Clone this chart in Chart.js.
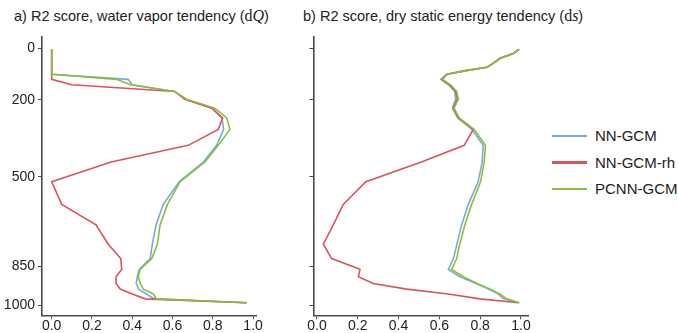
<!DOCTYPE html>
<html>
<head>
<meta charset="utf-8">
<script src="https://cdn.jsdelivr.net/npm/chart.js@4.4.1/dist/chart.umd.min.js"></script>
<style>
  html, body { margin: 0; padding: 0; background: #fff; }
  body { width: 678px; height: 333px; position: relative; overflow: hidden;
         font-family: "Liberation Sans", Arial, sans-serif; color: #222; }
  canvas { position: absolute; top: 0; }
  #chartA { left: 0; }
  #chartB { left: 280px; }
  .title { position: absolute; top: 8px; font-size: 14.5px; line-height: 16px; white-space: nowrap; }
  .m { font-family: "Liberation Serif", "DejaVu Serif", serif; font-size: 16px; }
  .i { font-style: italic; }
  .legLine { position: absolute; left: 552px; width: 35px; height: 2.5px; }
  .legText { position: absolute; left: 595px; font-size: 15px; line-height: 16px; white-space: nowrap; }
</style>
</head>
<body>
<div class="title" style="left:14px">a) R2 score, water vapor tendency (<span class="m">d</span><span class="m i">Q</span>)</div>
<div class="title" style="left:303px">b) R2 score, dry static energy tendency (<span class="m">d</span><span class="m i">s</span>)</div>
<canvas id="chartA" width="270" height="333"></canvas>
<canvas id="chartB" width="265" height="333"></canvas>
<div id="legend"></div>
<script>
// model levels (hPa)
const levels = [4, 20, 39, 57, 74, 87, 101, 121, 142, 168, 198, 233, 271, 316, 378, 443,
                520, 608, 688, 763, 819, 861, 890, 916, 938, 957, 976, 991];

// R2 of dQ
const dqNN = [0, 0, 0, 0, 0, 0, 0, 0.38, 0.40, 0.61, 0.66, 0.795, 0.845, 0.854, 0.819, 0.753,
              0.633, 0.554, 0.518, 0.50, 0.489, 0.435, 0.425, 0.42, 0.432, 0.47, 0.51, 0.968];
const dqRh = [0, 0, 0, 0, 0, 0, 0, 0, 0.10, 0.612, 0.66, 0.795, 0.849, 0.827, 0.678, 0.295,
              0.0, 0.05, 0.22, 0.281, 0.343, 0.348, 0.32, 0.32, 0.34, 0.40, 0.464, 0.968];
const dqPc = [0, 0, 0, 0, 0, 0, 0, 0.323, 0.39, 0.61, 0.67, 0.81, 0.869, 0.885, 0.827, 0.761,
              0.637, 0.575, 0.538, 0.525, 0.497, 0.439, 0.43, 0.44, 0.455, 0.505, 0.52, 0.968];

// R2 of ds
const dsNN = [0.99, 0.962, 0.897, 0.865, 0.832, 0.725, 0.636, 0.607, 0.645, 0.675, 0.68, 0.664,
              0.69, 0.76, 0.815, 0.81, 0.79, 0.742, 0.709, 0.686, 0.669, 0.644, 0.701, 0.78,
              0.84, 0.889, 0.914, 0.99];
const dsRh = [0.99, 0.962, 0.897, 0.868, 0.832, 0.73, 0.638, 0.612, 0.65, 0.68, 0.688, 0.668,
              0.694, 0.766, 0.722, 0.512, 0.24, 0.129, 0.08, 0.031, 0.072, 0.211, 0.203, 0.276,
              0.44, 0.643, 0.80, 0.987];
const dsPc = [0.993, 0.965, 0.9, 0.87, 0.835, 0.735, 0.64, 0.615, 0.655, 0.685, 0.693, 0.672,
              0.697, 0.77, 0.826, 0.82, 0.802, 0.758, 0.725, 0.70, 0.685, 0.66, 0.717, 0.785,
              0.85, 0.897, 0.93, 0.993];

const seriesNames = ['NN-GCM', 'NN-GCM-rh', 'PCNN-GCM'];
const seriesColors = ['#7eaad6', '#d9545f', '#8cbd3f'];
const pressureTicks = [0, 200, 500, 850, 1000];
const scoreTicks = [0, 0.2, 0.4, 0.6, 0.8, 1.0];

Chart.defaults.font.family = '"Liberation Sans", Arial, sans-serif';
Chart.defaults.font.size = 14;
Chart.defaults.color = '#222';

const axisColor = '#4a4a4a';

function makeDatasets(values) {
  // green on top, then red, then blue
  const order = [2, 1, 0];
  return values.map((vals, k) => ({
    label: seriesNames[k],
    data: levels.map((p, i) => ({ x: vals[i], y: p })),
    borderColor: seriesColors[k],
    backgroundColor: seriesColors[k],
    borderWidth: 1.6,
    showLine: true,
    pointRadius: 0,
    order: order[k]
  }));
}

function makeChart(id, values, xMin, xMax, yWidth, padRight, showYLabels) {
  return new Chart(document.getElementById(id), {
    type: 'scatter',
    data: { datasets: makeDatasets(values) },
    options: {
      responsive: false,
      animation: false,
      events: [],
      layout: { padding: { top: 36.5, right: padRight, bottom: 0, left: 0 } },
      plugins: { legend: { display: false }, tooltip: { enabled: false } },
      scales: {
        x: {
          type: 'linear',
          min: xMin,
          max: xMax,
          afterBuildTicks: s => { s.ticks = scoreTicks.map(v => ({ value: v })); },
          afterFit: s => { s.height = 17.7; },
          ticks: { callback: v => v.toFixed(1), padding: 0, maxRotation: 0, font: { lineHeight: 1 } },
          grid: { drawOnChartArea: false, drawTicks: true, tickLength: 4, color: axisColor, tickWidth: 1 },
          border: { display: true, color: axisColor, width: 1.6 }
        },
        y: {
          type: 'linear',
          reverse: true,
          min: -46,
          max: 1040,
          afterBuildTicks: s => { s.ticks = pressureTicks.map(v => ({ value: v })); },
          afterFit: s => { s.width = yWidth; },
          ticks: { display: showYLabels, padding: 3, callback: v => String(v) },
          grid: { drawOnChartArea: false, drawTicks: true, tickLength: 4, color: axisColor, tickWidth: 1 },
          border: { display: true, color: axisColor, width: 1.6 }
        }
      }
    }
  });
}

makeChart('chartA', [dqNN, dqRh, dqPc], -0.048, 1.016, 42, 13.7, true);
makeChart('chartB', [dsNN, dsRh, dsPc], -0.017, 1.038, 33.5, 16.3, false);

// legend
const legend = document.getElementById('legend');
const rowY = [136, 162.5, 189];
seriesNames.forEach((name, k) => {
  const line = document.createElement('div');
  line.className = 'legLine';
  line.style.top = (rowY[k] - 1.25) + 'px';
  line.style.background = seriesColors[k];
  legend.appendChild(line);
  const txt = document.createElement('div');
  txt.className = 'legText';
  txt.style.top = (rowY[k] - 8) + 'px';
  txt.textContent = name;
  legend.appendChild(txt);
});
</script>
</body>
</html>
